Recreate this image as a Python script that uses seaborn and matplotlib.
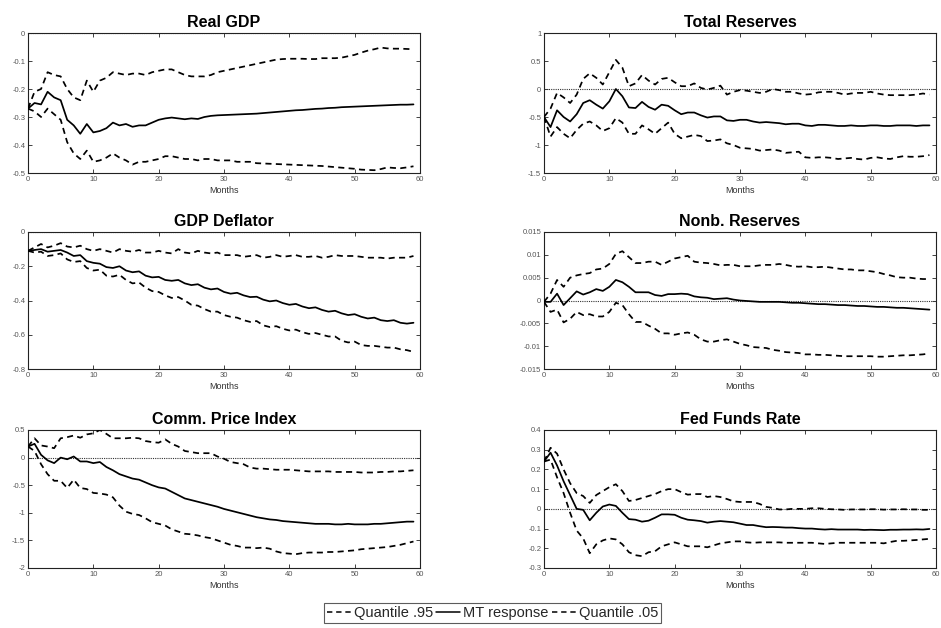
import numpy as np
import pandas as pd
import matplotlib
matplotlib.use("Agg")
import matplotlib.pyplot as plt
import seaborn as sns
from matplotlib.lines import Line2D

months = list(range(60))

titles = ["Real GDP", "Total Reserves", "GDP Deflator", "Nonb. Reserves",
          "Comm. Price Index", "Fed Funds Rate"]

# ---- Real GDP
gdp_mt = [-0.27, -0.25, -0.255, -0.21, -0.23, -0.24, -0.31, -0.33, -0.36, -0.325,
          -0.355, -0.35, -0.34, -0.32, -0.33, -0.325, -0.335, -0.33, -0.33, -0.32,
          -0.31, -0.305, -0.302, -0.305, -0.308, -0.305, -0.307, -0.30, -0.296, -0.294,
          -0.293, -0.292, -0.291, -0.29, -0.289, -0.288, -0.286, -0.284, -0.282, -0.28,
          -0.278, -0.276, -0.275, -0.273, -0.271, -0.27, -0.268, -0.267, -0.265, -0.264,
          -0.263, -0.262, -0.261, -0.26, -0.259, -0.258, -0.257, -0.256, -0.256, -0.255]
gdp_q95 = [-0.27, -0.21, -0.20, -0.14, -0.15, -0.155, -0.20, -0.23, -0.24, -0.17,
           -0.21, -0.17, -0.16, -0.14, -0.145, -0.15, -0.145, -0.145, -0.15, -0.14,
           -0.135, -0.13, -0.13, -0.14, -0.15, -0.155, -0.155, -0.155, -0.15, -0.14,
           -0.135, -0.13, -0.125, -0.12, -0.115, -0.11, -0.105, -0.10, -0.095, -0.093,
           -0.092, -0.092, -0.092, -0.093, -0.093, -0.09, -0.09, -0.09, -0.088, -0.083,
           -0.078, -0.07, -0.063, -0.058, -0.052, -0.055, -0.056, -0.056, -0.057, -0.058]
gdp_q05 = [-0.27, -0.28, -0.30, -0.27, -0.29, -0.31, -0.39, -0.43, -0.45, -0.42,
           -0.46, -0.455, -0.445, -0.43, -0.445, -0.455, -0.47, -0.46, -0.46, -0.455,
           -0.45, -0.44, -0.44, -0.445, -0.45, -0.45, -0.455, -0.45, -0.45, -0.455,
           -0.455, -0.455, -0.46, -0.46, -0.46, -0.465, -0.466, -0.467, -0.468, -0.469,
           -0.47, -0.471, -0.472, -0.473, -0.474, -0.475, -0.477, -0.479, -0.481, -0.483,
           -0.485, -0.488, -0.489, -0.49, -0.486, -0.48, -0.482, -0.483, -0.48, -0.476]

# ---- Total Reserves
tr_mt = [-0.5, -0.68, -0.38, -0.5, -0.58, -0.45, -0.25, -0.2, -0.28, -0.35,
         -0.22, 0.0, -0.13, -0.33, -0.34, -0.23, -0.32, -0.37, -0.28, -0.3,
         -0.38, -0.45, -0.42, -0.42, -0.47, -0.51, -0.49, -0.49, -0.56, -0.57,
         -0.55, -0.55, -0.58, -0.6, -0.59, -0.6, -0.61, -0.63, -0.62, -0.62,
         -0.65, -0.66, -0.64, -0.64, -0.65, -0.66, -0.66, -0.65, -0.66, -0.66,
         -0.65, -0.65, -0.66, -0.66, -0.65, -0.65, -0.65, -0.66, -0.65, -0.65]
tr_q95 = [-0.5, -0.35, -0.07, -0.15, -0.25, -0.1, 0.18, 0.28, 0.2, 0.08,
          0.3, 0.52, 0.38, 0.05, 0.1, 0.25, 0.15, 0.08, 0.18, 0.2,
          0.12, 0.05, 0.05, 0.1, 0.02, -0.01, 0.02, 0.06, -0.1, -0.05,
          -0.02, -0.03, -0.05, -0.07, -0.05, 0.0, -0.02, -0.05, -0.05, -0.08,
          -0.1, -0.09, -0.06, -0.05, -0.05, -0.07, -0.1, -0.08, -0.07, -0.07,
          -0.05, -0.08, -0.1, -0.11, -0.11, -0.11, -0.11, -0.1, -0.08, -0.1]
tr_q05 = [-0.5, -0.85, -0.68, -0.8, -0.88, -0.73, -0.62, -0.58, -0.65, -0.75,
          -0.7, -0.52, -0.6, -0.8, -0.8, -0.65, -0.72, -0.8, -0.7, -0.6,
          -0.8, -0.88, -0.85, -0.82, -0.84, -0.93, -0.92, -0.9, -0.97, -1.0,
          -1.05, -1.06, -1.07, -1.1, -1.09, -1.08, -1.1, -1.14, -1.13, -1.12,
          -1.22, -1.23, -1.22, -1.22, -1.23, -1.25, -1.24, -1.23, -1.25, -1.26,
          -1.23, -1.22, -1.24, -1.25, -1.22, -1.2, -1.21, -1.21, -1.2, -1.18]

# ---- GDP Deflator
def_mt = [-0.11, -0.105, -0.1, -0.115, -0.11, -0.105, -0.12, -0.14, -0.135, -0.17,
          -0.18, -0.185, -0.205, -0.21, -0.2, -0.225, -0.235, -0.23, -0.255, -0.265,
          -0.262, -0.28, -0.285, -0.28, -0.3, -0.31, -0.305, -0.325, -0.335, -0.33,
          -0.35, -0.36, -0.355, -0.37, -0.38, -0.378, -0.395, -0.405, -0.4, -0.415,
          -0.425, -0.42, -0.435, -0.445, -0.44, -0.455, -0.465, -0.46, -0.475, -0.485,
          -0.48, -0.495, -0.505, -0.5, -0.515, -0.52, -0.515, -0.53, -0.535, -0.53]
def_q95 = [-0.11, -0.09, -0.07, -0.09, -0.08, -0.065, -0.085, -0.09, -0.08, -0.1,
           -0.11, -0.1, -0.11, -0.12, -0.1, -0.11, -0.115, -0.105, -0.12, -0.12,
           -0.11, -0.12, -0.125, -0.1, -0.12, -0.125, -0.11, -0.12, -0.125, -0.12,
           -0.135, -0.135, -0.135, -0.145, -0.14, -0.135, -0.15, -0.145, -0.135, -0.145,
           -0.14, -0.135, -0.145, -0.145, -0.14, -0.15, -0.145, -0.135, -0.14, -0.14,
           -0.14, -0.145, -0.15, -0.15, -0.15, -0.155, -0.15, -0.15, -0.15, -0.14]
def_q05 = [-0.11, -0.12, -0.115, -0.14, -0.135, -0.125, -0.16, -0.175, -0.17, -0.21,
           -0.225, -0.22, -0.255, -0.26, -0.25, -0.28, -0.3, -0.295, -0.325, -0.345,
           -0.35, -0.37, -0.385, -0.38, -0.4, -0.425, -0.43, -0.45, -0.465, -0.465,
           -0.485, -0.495, -0.5, -0.515, -0.525, -0.52, -0.545, -0.555, -0.55, -0.565,
           -0.575, -0.57, -0.585, -0.595, -0.59, -0.6, -0.61, -0.61, -0.635, -0.645,
           -0.64, -0.66, -0.665, -0.665, -0.67, -0.675, -0.675, -0.685, -0.69, -0.7]

# ---- Nonb. Reserves
nbr_mt = [-0.0003, -0.0003, 0.0015, -0.001, 0.0005, 0.002, 0.0013, 0.0018, 0.0025, 0.0021,
          0.003, 0.0045, 0.004, 0.003, 0.0018, 0.0018, 0.0018, 0.0012, 0.001, 0.0014,
          0.0014, 0.0015, 0.0014, 0.0009, 0.0007, 0.0006, 0.0003, 0.0004, 0.0005, 0.0002,
          0.0, -0.0001, -0.0002, -0.0003, -0.0003, -0.0003, -0.0003, -0.0004, -0.0005, -0.0005,
          -0.0006, -0.0007, -0.0008, -0.0008, -0.0009, -0.001, -0.001, -0.0011, -0.0012, -0.0012,
          -0.0013, -0.0014, -0.0014, -0.0015, -0.0016, -0.0016, -0.0017, -0.0018, -0.0019, -0.002]
nbr_q95 = [-0.0003, 0.0015, 0.0045, 0.003, 0.005, 0.0055, 0.0058, 0.006, 0.0068, 0.007,
           0.008, 0.0102, 0.0108, 0.0095, 0.0082, 0.0082, 0.0085, 0.0085, 0.0078, 0.0085,
           0.0092, 0.0095, 0.0098, 0.0085, 0.0083, 0.0082, 0.008, 0.0077, 0.0078, 0.0078,
           0.0075, 0.0075, 0.0075, 0.0077, 0.0078, 0.0078, 0.008, 0.0078, 0.0075, 0.0074,
           0.0075, 0.0073, 0.0073, 0.0074, 0.0072, 0.007, 0.0068, 0.0068, 0.0066, 0.0066,
           0.0064, 0.0062, 0.0058, 0.0055, 0.0051, 0.005, 0.005, 0.0048, 0.0047, 0.0047]
nbr_q05 = [-0.0003, -0.0025, -0.002, -0.0048, -0.004, -0.0025, -0.0032, -0.003, -0.0035, -0.0035,
           -0.0025, -0.0005, -0.001, -0.003, -0.0047, -0.0047, -0.0055, -0.0062, -0.0072, -0.0072,
           -0.0075, -0.0072, -0.007, -0.0075, -0.0085, -0.009, -0.009, -0.0087, -0.0085, -0.009,
           -0.0095, -0.0098, -0.0102, -0.0103, -0.0104, -0.0108, -0.011, -0.0113, -0.0114, -0.0115,
           -0.0118, -0.0118, -0.0119, -0.0119, -0.012, -0.0121, -0.0122, -0.0122, -0.0122, -0.0122,
           -0.0122, -0.0123, -0.0123, -0.0122, -0.0121, -0.012, -0.012, -0.0119, -0.0118, -0.0116]

# ---- Comm. Price Index
cpi_mt = [0.2, 0.25, 0.05, -0.05, -0.1, 0.0, -0.03, 0.02, -0.07, -0.07,
          -0.1, -0.08, -0.17, -0.23, -0.3, -0.34, -0.38, -0.4, -0.45, -0.5,
          -0.54, -0.56, -0.62, -0.68, -0.74, -0.77, -0.8, -0.83, -0.86, -0.89,
          -0.93, -0.96, -0.99, -1.02, -1.05, -1.08, -1.1, -1.12, -1.13, -1.15,
          -1.16, -1.17, -1.18, -1.19, -1.2, -1.2, -1.2, -1.21, -1.21, -1.2,
          -1.21, -1.21, -1.21, -1.2, -1.2, -1.19, -1.18, -1.17, -1.16, -1.16]
cpi_q95 = [0.2, 0.35, 0.22, 0.2, 0.17, 0.35, 0.37, 0.4, 0.36, 0.42,
           0.44, 0.5, 0.43, 0.35, 0.35, 0.35, 0.36, 0.35, 0.3, 0.28,
           0.27, 0.33, 0.25, 0.2, 0.12, 0.1, 0.08, 0.08, 0.08, 0.02,
           -0.02, -0.08, -0.1, -0.12, -0.18, -0.2, -0.2, -0.21, -0.22, -0.22,
           -0.22, -0.23, -0.24, -0.25, -0.25, -0.25, -0.25, -0.26, -0.26, -0.26,
           -0.26, -0.27, -0.27, -0.27, -0.26, -0.26, -0.25, -0.25, -0.24, -0.23]
cpi_q05 = [0.2, 0.12, -0.12, -0.3, -0.42, -0.42, -0.55, -0.4, -0.55, -0.57,
           -0.64, -0.65, -0.67, -0.72, -0.87, -0.98, -1.02, -1.04, -1.1, -1.17,
           -1.2, -1.23, -1.3, -1.34, -1.38, -1.39, -1.41, -1.44, -1.46, -1.5,
           -1.54, -1.58, -1.6, -1.63, -1.63, -1.64, -1.63, -1.65, -1.7, -1.73,
           -1.74, -1.75, -1.73, -1.72, -1.72, -1.72, -1.71, -1.71, -1.7, -1.69,
           -1.68, -1.66, -1.65, -1.64, -1.63, -1.62, -1.6, -1.58, -1.55, -1.52]

# ---- Fed Funds Rate
ffr_mt = [0.24, 0.285, 0.22, 0.14, 0.07, 0.0, -0.005, -0.058, -0.02, 0.012,
          0.022, 0.015, -0.02, -0.052, -0.055, -0.065, -0.06, -0.045, -0.028, -0.028,
          -0.03, -0.045, -0.055, -0.058, -0.062, -0.07, -0.065, -0.062, -0.065, -0.068,
          -0.075, -0.082, -0.082, -0.088, -0.093, -0.092, -0.093, -0.095, -0.095, -0.098,
          -0.1, -0.1, -0.103, -0.105, -0.103, -0.105, -0.105, -0.105, -0.105, -0.107,
          -0.106, -0.107, -0.108, -0.106, -0.106, -0.105, -0.105, -0.104, -0.105, -0.102]
ffr_q95 = [0.24, 0.31, 0.28, 0.2, 0.13, 0.08, 0.065, 0.03, 0.07, 0.09,
           0.11, 0.125, 0.09, 0.04, 0.045, 0.055, 0.065, 0.075, 0.09, 0.1,
           0.1, 0.085, 0.072, 0.075, 0.075, 0.06, 0.065, 0.06, 0.05, 0.038,
           0.035, 0.035, 0.035, 0.025, 0.01, 0.005, -0.003, -0.003, 0.0, 0.0,
           0.0, 0.003, 0.003, 0.0, -0.002, -0.003, -0.005, -0.003, -0.003, -0.003,
           -0.002, -0.002, -0.004, -0.003, -0.003, -0.002, -0.003, -0.003, -0.005, -0.005]
ffr_q05 = [0.24, 0.25, 0.16, 0.08, -0.02, -0.11, -0.15, -0.225, -0.18, -0.16,
           -0.15, -0.155, -0.18, -0.22, -0.235, -0.24, -0.22, -0.215, -0.19, -0.18,
           -0.17, -0.18, -0.19, -0.19, -0.19, -0.195, -0.185, -0.175, -0.17, -0.165,
           -0.165, -0.17, -0.172, -0.17, -0.17, -0.17, -0.17, -0.172, -0.172, -0.172,
           -0.172, -0.172, -0.175, -0.178, -0.175, -0.172, -0.172, -0.172, -0.172, -0.172,
           -0.172, -0.172, -0.175, -0.168, -0.162, -0.162, -0.16, -0.158, -0.155, -0.152]

series = [
    (gdp_q95, gdp_mt, gdp_q05),
    (tr_q95, tr_mt, tr_q05),
    (def_q95, def_mt, def_q05),
    (nbr_q95, nbr_mt, nbr_q05),
    (cpi_q95, cpi_mt, cpi_q05),
    (ffr_q95, ffr_mt, ffr_q05),
]
ylims = [(-0.5, 0), (-1.5, 1), (-0.8, 0), (-0.015, 0.015), (-2, 0.5), (-0.3, 0.4)]
yticks = [
    [-0.5, -0.4, -0.3, -0.2, -0.1, 0],
    [-1.5, -1, -0.5, 0, 0.5, 1],
    [-0.8, -0.6, -0.4, -0.2, 0],
    [-0.015, -0.01, -0.005, 0, 0.005, 0.01, 0.015],
    [-2, -1.5, -1, -0.5, 0, 0.5],
    [-0.3, -0.2, -0.1, 0, 0.1, 0.2, 0.3, 0.4],
]
xticks = [0, 10, 20, 30, 40, 50, 60]
legend_labels = ["Quantile .95", "MT response", "Quantile .05"]

sns.set_theme(style="white")
plt.rcParams["font.family"] = ["Liberation Sans", "DejaVu Sans"]

fig = plt.figure(figsize=(9.41, 6.28), dpi=100)

W, H = 941.0, 628.0
cols = [(28, 420), (544, 936)]
rows = [(33, 173), (232, 369), (430, 568)]

def fmt(v):
    return "%g" % v

tick_col = "#555555"
for i, (tt, (q95, mt, q05)) in enumerate(zip(titles, series)):
    r, c = divmod(i, 2)
    x0, x1 = cols[c]
    y0, y1 = rows[r]
    ax = fig.add_axes([x0 / W, 1 - y1 / H, (x1 - x0) / W, (y1 - y0) / H])
    df = pd.DataFrame({"Months": months * 3,
                       "value": q95 + mt + q05,
                       "series": [legend_labels[0]] * 60 + [legend_labels[1]] * 60 + [legend_labels[2]] * 60})
    ax.axhline(0, color="#333333", lw=0.8, ls=(0, (1, 1)), zorder=1)
    sns.lineplot(data=df, x="Months", y="value", hue="series", style="series",
                 palette=["black", "black", "black"],
                 dashes={legend_labels[0]: (3.5, 2.5), legend_labels[1]: "",
                         legend_labels[2]: (3.5, 2.5)},
                 linewidth=1.25, ax=ax, legend=False, zorder=3)
    ax.set_xlim(0, 60)
    ax.set_ylim(*ylims[i])
    ax.set_xticks(xticks)
    ax.set_xticklabels([str(t) for t in xticks])
    ax.set_yticks(yticks[i])
    ax.set_yticklabels([fmt(v) for v in yticks[i]])
    ax.tick_params(direction="in", length=3, width=0.6, top=True, right=True,
                   labelsize=5.5, labelcolor=tick_col, color="#222222", pad=2,
                   bottom=True, left=True)
    for sp in ax.spines.values():
        sp.set_visible(True)
        sp.set_color("#222222")
        sp.set_linewidth(0.8)
    ax.set_xlabel("Months", fontsize=6.5, color="#333333", labelpad=2)
    ax.set_ylabel("")
    ax.set_title(tt, fontsize=11.5, fontweight="bold", color="black", pad=4)
    ax.grid(False)

handles = [
    Line2D([], [], color="black", lw=1.1, ls=(0, (3.5, 2.5))),
    Line2D([], [], color="black", lw=1.1, ls="-"),
    Line2D([], [], color="black", lw=1.1, ls=(0, (3.5, 2.5))),
]
leg = fig.legend(handles, legend_labels, loc="center", bbox_to_anchor=(492.5 / W, 1 - 613 / H),
                 ncol=3, fontsize=10.5, frameon=True, fancybox=False, handlelength=1.65,
                 handletextpad=0.2, columnspacing=0.2, borderpad=0.2, borderaxespad=0)
leg.get_frame().set_edgecolor("#333333")
leg.get_frame().set_linewidth(0.8)

fig.savefig("out.png", dpi=100, facecolor="white")
